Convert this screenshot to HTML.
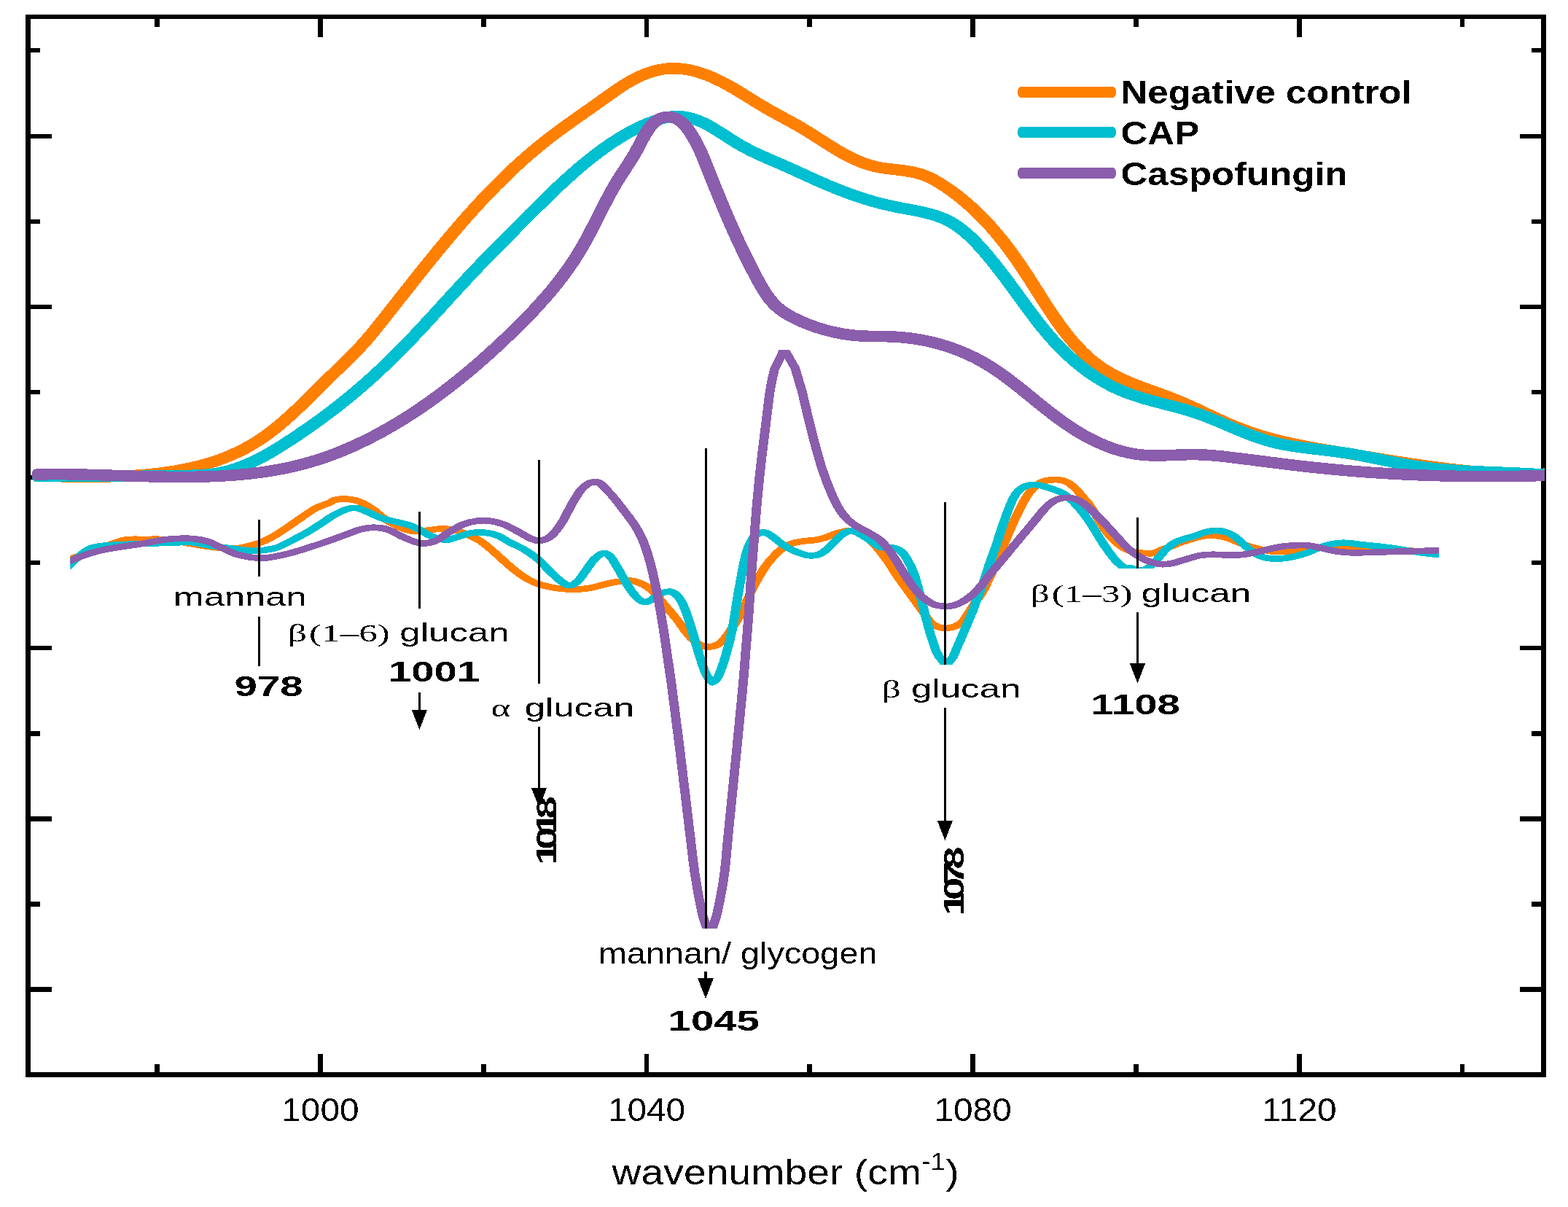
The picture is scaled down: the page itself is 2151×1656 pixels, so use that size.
<!DOCTYPE html>
<html lang="en"><head><meta charset="utf-8"><title>FTIR spectra 960-1150 wavenumber</title>
<style>html,body{margin:0;padding:0;background:#fff}svg{display:block}text{font-family:"Liberation Sans",sans-serif;fill:#000}.b{font-weight:bold}.sy{font-family:"Liberation Serif",serif}</style></head><body>
<svg xmlns="http://www.w3.org/2000/svg" width="2151" height="1656" viewBox="0 0 2151 1656" shape-rendering="crispEdges">
<rect width="2151" height="1656" fill="#fff"/>
<g fill="#000">
<rect x="35.0" y="20.0" width="7.0" height="1458.0"/>
<rect x="2114.3" y="20.0" width="6.7" height="1458.0"/>
<rect x="35.0" y="20.0" width="2086.0" height="6.0"/>
<rect x="35.0" y="1471.0" width="2086.0" height="7.0"/>
<rect x="212.2" y="26.0" width="6.8" height="11"/>
<rect x="212.2" y="1460" width="6.8" height="11"/>
<rect x="436" y="26.0" width="6.8" height="25"/>
<rect x="436" y="1446" width="6.8" height="25"/>
<rect x="659.8" y="26.0" width="6.8" height="11"/>
<rect x="659.8" y="1460" width="6.8" height="11"/>
<rect x="883.6" y="26.0" width="6.8" height="25"/>
<rect x="883.6" y="1446" width="6.8" height="25"/>
<rect x="1107.4" y="26.0" width="6.8" height="11"/>
<rect x="1107.4" y="1460" width="6.8" height="11"/>
<rect x="1331.2" y="26.0" width="6.8" height="25"/>
<rect x="1331.2" y="1446" width="6.8" height="25"/>
<rect x="1555" y="26.0" width="6.8" height="11"/>
<rect x="1555" y="1460" width="6.8" height="11"/>
<rect x="1778.8" y="26.0" width="6.8" height="25"/>
<rect x="1778.8" y="1446" width="6.8" height="25"/>
<rect x="2002.6" y="26.0" width="6.8" height="11"/>
<rect x="2002.6" y="1460" width="6.8" height="11"/>
<rect x="42.0" y="65.8" width="13" height="6.4"/>
<rect x="2101.1" y="65.8" width="13.2" height="6.4"/>
<rect x="42.0" y="183.8" width="29" height="6.4"/>
<rect x="2084.8" y="183.8" width="29.5" height="6.4"/>
<rect x="42.0" y="300.8" width="13" height="6.4"/>
<rect x="2101.1" y="300.8" width="13.2" height="6.4"/>
<rect x="42.0" y="417.8" width="29" height="6.4"/>
<rect x="2084.8" y="417.8" width="29.5" height="6.4"/>
<rect x="42.0" y="534.9" width="13" height="6.4"/>
<rect x="2101.1" y="534.9" width="13.2" height="6.4"/>
<rect x="42.0" y="651.9" width="29" height="6.4"/>
<rect x="2084.8" y="651.9" width="29.5" height="6.4"/>
<rect x="42.0" y="769" width="13" height="6.4"/>
<rect x="2101.1" y="769" width="13.2" height="6.4"/>
<rect x="42.0" y="886" width="29" height="6.4"/>
<rect x="2084.8" y="886" width="29.5" height="6.4"/>
<rect x="42.0" y="1003.1" width="13" height="6.4"/>
<rect x="2101.1" y="1003.1" width="13.2" height="6.4"/>
<rect x="42.0" y="1120.2" width="29" height="6.4"/>
<rect x="2084.8" y="1120.2" width="29.5" height="6.4"/>
<rect x="42.0" y="1237.2" width="13" height="6.4"/>
<rect x="2101.1" y="1237.2" width="13.2" height="6.4"/>
<rect x="42.0" y="1354.2" width="29" height="6.4"/>
<rect x="2084.8" y="1354.2" width="29.5" height="6.4"/>
</g>
<defs>
<clipPath id="cu"><rect x="0" y="0" width="1811.1" height="1656"/></clipPath>
<clipPath id="cl"><rect x="64.6" y="476" width="1260.3" height="900"/></clipPath>
<filter id="bin" x="-5%" y="-20%" width="110%" height="140%" color-interpolation-filters="sRGB"><feComponentTransfer><feFuncA type="discrete" tableValues="0 1"/></feComponentTransfer></filter>
</defs>
<g transform="scale(1.49 1)" fill="none" stroke-width="8.6" stroke-linejoin="miter" stroke-miterlimit="6" clip-path="url(#cl)">
<path d="M60.4 772C61.8 770.4 60.1 770.1 64.6 767.3C69 764.5 80.7 758.5 87.2 755C93.8 751.5 98.8 748.5 103.6 746C108.4 743.5 111 741.3 116.1 740.3C121.2 739.3 128 740 134.2 740C140.5 740 144.1 738.9 153.6 740.5C163 742.1 180.6 747.8 191 749.8C201.4 751.8 209.7 752.5 215.9 752.4C222.1 752.3 224.2 750.8 228.4 749.3C232.6 747.8 236.8 746.2 240.9 743.7C245.1 741.2 249.2 738 253.4 734.4C257.5 730.8 261.7 726.5 265.8 722.3C270 718.1 274.2 713.5 278.3 709.3C282.5 705.1 286.6 700.5 290.8 697.2C295 694 300.5 691.7 303.3 689.8C306.1 687.9 305.4 686.9 307.8 686C310.2 685.1 314 684.2 317.8 684.5C321.5 684.8 326.1 685.6 330.3 687.9C334.4 690.2 338.6 693.9 342.8 698.1C346.9 702.3 351.1 708.8 355.2 713C359.4 717.2 363.6 720.6 367.7 723.2C371.9 725.8 376 728 380.2 728.8C384.4 729.6 388.5 728.4 392.7 727.9C396.8 727.4 401 725.8 405.2 725.6C409.3 725.4 413.4 725.6 417.6 726.9C421.7 728.2 425.9 730.8 430.1 733.4C434.2 736 438.4 738.7 442.6 742.7C446.7 746.7 450.9 752.3 455 757.6C459.2 762.9 463.4 769.1 467.5 774.4C471.7 779.7 475.8 785 480 789.2C484.2 793.4 488.3 796.9 492.5 799.5C496.6 802.1 500.8 803.6 505 805C509.1 806.4 513.3 807.2 517.4 807.8C521.6 808.4 525.8 808.9 529.9 808.8C534.1 808.6 539.2 807.6 542.4 806.9C545.7 806.2 546.2 805.8 549.4 804.6C552.6 803.4 557.7 801.1 561.9 799.9C566 798.6 570.8 797.6 574.4 797.1C577.9 796.6 580 796.2 583.1 797.1C586.2 798 590.4 800.7 593.1 802.7C595.8 804.7 597.2 806.6 599.3 809.2C601.4 811.8 603.5 815.1 605.6 818.5C607.7 821.9 609.7 826 611.8 829.7C613.9 833.4 616 837.1 618.1 840.8C620.1 844.5 622.2 848 624.3 852C626.4 856 628.5 861 630.5 865C632.6 869 634.7 873.1 636.8 876.2C638.9 879.3 640.9 881.8 643 883.6C645.1 885.4 647.2 886.4 649.3 887C651.3 887.6 653.4 887.6 655.5 887C657.6 886.4 659.7 885.7 661.7 883.6C663.8 881.5 665.9 878 668 874.3C670.1 870.6 672.1 865.9 674.2 861.3C676.3 856.6 678.4 852 680.5 846.4C682.6 840.8 684.6 834.3 686.7 827.8C688.8 821.3 690.9 813.6 693 807.4C695 801.2 697.1 795.9 699.1 790.6C701.2 785.3 703.3 780.1 705.4 775.8C707.4 771.5 709.5 768 711.6 764.6C713.7 761.2 715.8 757.9 717.9 755.3C719.9 752.7 722 750.5 724.1 748.8C726.2 747.1 728.3 746 730.3 745.1C732.4 744.2 734.5 743.7 736.6 743.2C738.7 742.7 740.7 742.2 742.8 741.9C744.9 741.6 747 741.7 749.1 741.3C751.1 740.9 753.2 740.3 755.3 739.5C757.4 738.7 759.5 737.8 761.5 736.7C763.6 735.6 765.7 734.1 767.8 733C769.9 731.9 771.9 731 774 730.2C776.1 729.4 778.2 728.4 780.3 728.3C782.3 728.1 784.5 729.1 786.5 729.3C788.5 729.5 789.1 725.9 792.4 729.3C795.8 732.7 803.1 744.4 806.5 749.7C809.8 755 810.7 756.9 812.7 760.9C814.8 764.9 816.9 769.2 819 773.9C821.1 778.5 823.2 784.1 825.3 788.8C827.4 793.4 829.5 797.5 831.6 801.8C833.7 806.1 835.8 810.5 837.9 814.8C840 819.1 842.1 823.5 844.2 827.8C846.3 832.1 848.5 836.8 850.5 840.8C852.4 844.8 854 849 855.8 852C857.5 855 859.1 857 860.9 858.5C862.8 860 864.8 860.8 866.8 861.3C868.9 861.8 871 862 873.1 861.7C875.2 861.4 877.2 860.7 879.3 859.4C881.4 858.1 883.5 857 885.6 853.9C887.7 850.8 889.7 845.4 891.8 840.8C893.9 836.1 896 830.6 898.1 826C900.1 821.4 902.2 818.2 904.3 812.9C906.4 807.6 908.5 800.8 910.5 794.3C912.6 787.8 914.7 781 916.8 773.9C918.9 766.8 920.9 759 923 751.6C925.1 744.2 927.2 736.4 929.3 729.3C931.3 722.2 933.4 715.3 935.5 708.8C937.6 702.3 939.7 695.8 941.7 690.2C943.8 684.6 945.9 679.3 948 675.3C950.1 671.3 952.1 668.5 954.2 666C956.2 663.5 958.3 661.7 960.4 660.5C962.5 659.3 964.6 659 966.6 658.6C968.7 658.2 970.8 658.1 972.9 658.2C975 658.4 977 658.5 979.1 659.5C981.2 660.5 983.3 662 985.4 664.2C987.4 666.4 989.5 669.2 991.6 672.5C993.7 675.8 995.8 680 997.9 683.7C999.9 687.4 1001 688 1004.1 694.9C1007.2 701.8 1013.5 718 1016.6 725C1019.7 732 1020.7 733.2 1022.8 736.7C1024.9 740.2 1027 743.4 1029.1 746C1031.1 748.6 1033.2 750.8 1035.3 752.5C1037.4 754.2 1039.5 755.3 1041.5 756.2C1043.6 757.1 1045.6 757.6 1047.8 758.1C1049.9 758.6 1052.2 758.9 1054.5 759C1056.8 759.1 1059.2 759.8 1061.7 759C1064.2 758.2 1066.8 755.8 1069.7 754.1C1072.6 752.5 1076.1 750.8 1079 749.1C1081.9 747.4 1084.6 745.6 1087.4 744.1C1090.2 742.6 1093 741.6 1095.8 740.3C1098.7 739 1101.5 737.5 1104.3 736.5C1107.1 735.5 1109.9 734.7 1112.7 734.5C1115.5 734.3 1118.3 734.8 1121.1 735.3C1123.9 735.8 1126.7 736.5 1129.5 737.8C1132.3 739 1135.2 741.1 1138 742.8C1140.8 744.5 1143.6 746.3 1146.4 747.8C1149.2 749.3 1152 750.5 1154.8 751.6C1157.6 752.7 1160.4 753.8 1163.2 754.6C1166 755.4 1168.9 756.2 1171.7 756.6C1174.5 757 1177.3 757.1 1180.1 757.1C1182.9 757.1 1185.7 756.9 1188.5 756.6C1191.3 756.3 1194.1 755.8 1196.9 755.3C1199.7 754.8 1202.6 754.1 1205.4 753.6C1208.2 753.1 1211 752.5 1213.8 752.1C1216.6 751.7 1219.4 751.3 1222.2 751.1C1225 750.9 1227.9 751 1230.7 751.1C1233.5 751.2 1234.9 751.2 1239.1 751.6C1243.3 752 1250.3 753.1 1255.9 753.6C1261.5 754.1 1267.3 754.4 1272.8 754.6C1278.2 754.8 1283.5 754.8 1288.8 755C1294.1 755.2 1298.5 755.7 1304.5 756C1310.5 756.3 1320.8 756.8 1324.8 757C1328.9 757.2 1327.5 757 1328.9 757" stroke="#ff8000"/>
<path d="M60.4 780C61.8 778.3 62.3 777.9 64.6 774.9C66.8 771.9 70.4 765.9 73.8 762C77.2 758.1 79.9 753.9 84.9 751.5C89.9 749.1 94.3 748.8 103.6 747.8C113 746.8 130.5 746.1 140.9 745.5C151.3 744.9 159.8 744.4 166 744.2C172.3 744 174.4 743.8 178.5 744.4C182.7 745 184.8 746.6 191 748C197.2 749.4 208.6 751.7 215.9 753C223.2 754.3 228.4 756 234.6 755.8C240.9 755.6 248.2 754 253.4 752C258.6 750 260.6 747.6 265.8 743.7C271 739.8 279.7 733 284.6 728.8C289.5 724.6 291.4 722.3 295.3 718.6C299.2 714.9 303.6 709.9 307.8 706.5C311.9 703.1 316.7 699.6 320.3 698.1C323.8 696.6 325.9 696.4 329 697.2C332.1 698 335.2 700.5 339 702.8C342.7 705.1 347.3 708.9 351.5 711.1C355.6 713.3 359.8 714.2 364 715.8C368.1 717.3 372.9 718.7 376.4 720.4C380 722.1 382 723.7 385.2 726C388.3 728.3 392 732.2 395.2 734.4C398.3 736.6 401.2 737.9 403.9 739C406.6 740.1 408.6 741.2 411.3 740.9C414 740.6 416.6 738.8 420.1 737.2C423.7 735.7 428.5 732.7 432.6 731.6C436.8 730.5 441 730.1 445.1 730.6C449.3 731.1 453.4 732.1 457.5 734.4C461.7 736.7 465.8 741.4 470 744.6C474.2 747.9 478.3 750.2 482.5 753.9C486.6 757.6 490.8 761.6 495 766.9C499.1 772.2 503.7 780.2 507.4 785.5C511.2 790.8 514.5 795.5 517.4 798.5C520.4 801.5 522.5 803.5 525 803.2C527.5 802.9 529.9 800.3 532.4 796.7C534.9 793.1 537.4 786.8 539.9 781.8C542.4 776.8 544.8 770.7 547.4 766.9C550 763.1 553.2 759.5 555.6 759C558.1 758.5 559.8 760.6 561.9 763.7C564 766.8 566 772.5 568.1 777.6C570.2 782.7 572.3 789 574.4 794.3C576.4 799.6 578.5 804.9 580.6 809.2C582.7 813.6 584.8 817.6 586.8 820.4C588.9 823.2 591 825.5 593.1 826C595.2 826.5 597.2 824.8 599.3 823.2C601.4 821.7 603.5 818.5 605.6 816.7C607.7 814.9 609.7 813.4 611.8 812.6C613.9 811.8 616 811 618.1 812C620.1 813 622.2 814.6 624.3 818.5C626.4 822.4 628.5 827.8 630.5 835.3C632.6 842.8 634.7 853.3 636.8 863.2C638.9 873.1 640.9 884.9 643 894.8C645.1 904.7 647.4 916.2 649.3 922.7C651.1 929.2 653 931.6 654.2 933.8C655.5 936 655.5 936.9 656.7 935.7C658 934.5 659.9 932.3 661.7 926.4C663.6 920.5 665.9 910.8 668 900.3C670.1 889.8 672.1 878.7 674.2 863.2C676.3 847.7 678.4 824.5 680.5 807.4C682.6 790.3 684.6 772.4 686.7 760.9C688.8 749.4 690.9 743.5 693 738.6C695 733.7 697.1 732.8 699.1 731.5C701.2 730.2 703.3 730.2 705.4 731.1C707.4 732 709.5 734.5 711.6 736.7C713.7 738.9 715.8 741.8 717.9 744.1C719.9 746.4 722 748.7 724.1 750.6C726.2 752.5 728.3 753.9 730.3 755.3C732.4 756.7 734.5 757.9 736.6 759C738.7 760.1 740.7 761.3 742.8 761.8C744.9 762.3 747 762.5 749.1 762.2C751.1 761.9 753.2 761.4 755.3 759.9C757.4 758.4 759.5 756 761.5 753.4C763.6 750.8 765.7 747.2 767.8 744.1C769.9 741 771.9 737.3 774 734.8C776.1 732.3 778.2 730.3 780.3 729.3C782.3 728.3 784.4 728.1 786.5 728.9C788.6 729.7 790.8 732.3 792.8 733.9C794.7 735.5 796.2 736.6 798.2 738.5C800.1 740.4 802.3 743.1 804.4 745.1C806.5 747.1 808.6 749.5 810.7 750.6C812.8 751.7 814.8 751.4 816.9 751.6C819 751.8 821.1 751.1 823.2 751.9C825.2 752.7 827.3 753.5 829.4 756.2C831.5 758.9 833.6 762.9 835.6 768.3C837.7 773.7 839.8 779.8 841.9 788.8C844 797.8 846 810.3 848.1 822.2C850.3 834.1 853.1 851.2 854.7 860C856.3 868.8 856.5 869.3 857.7 875C858.9 880.7 860.6 887.9 862.1 894.3L864.8 901.2L868.1 907.4L874.2 907.4L877.5 901.2L879.5 894.3C881.6 887.1 884 878.7 885.8 872.6C887.5 866.5 888.5 863 890.1 857.6C891.6 852.2 893.7 845.1 895.1 840C896.5 834.9 896.8 833 898.3 827C899.9 821 902.3 812.2 904.3 803.7C906.3 795.2 908.5 784.8 910.5 775.8C912.6 766.8 914.7 758.7 916.8 749.7C918.9 740.7 920.9 730.8 923 721.8C925.1 712.8 927.2 703.2 929.3 695.8C931.3 688.4 933.4 681.7 935.5 677.2C937.6 672.7 939.7 670.8 941.7 668.8C943.8 666.8 945.9 666.1 948 665.5C950.1 664.9 952.1 664.9 954.2 665.1C956.2 665.4 958.3 666.2 960.4 667C962.5 667.8 964.6 668.8 966.6 669.8C968.7 670.8 970.8 671.9 972.9 673.1C975 674.3 977 675.3 979.1 677.2C981.2 679.1 983.3 681.8 985.4 684.6C987.4 687.4 989.5 690.5 991.6 693.9C993.7 697.3 995.8 701.1 997.9 705.1C999.9 709.1 1002 713.5 1004.1 718.1C1006.2 722.8 1008.3 728 1010.3 733C1012.4 738 1014.5 743.2 1016.6 747.9C1018.7 752.5 1020.7 756.9 1022.8 760.9C1024.9 764.9 1027 769.1 1029.1 772C1031.1 774.9 1033.2 777.2 1035.3 778.5C1037.4 779.8 1039.5 778.9 1041.5 779.5C1043.5 780.1 1044.9 781.8 1047.3 782C1049.7 782.2 1052.9 782.6 1055.8 780.5C1058.6 778.4 1061.4 773.6 1064.3 769.2C1067.2 764.8 1070.2 758.3 1073.1 754.1C1076.1 749.9 1079 746.6 1082 744.1C1085 741.6 1088.2 740.5 1091.2 739C1094.3 737.5 1097.3 736.8 1100.3 735.3C1103.4 733.8 1106.4 731.4 1109.3 730.2C1112.2 729 1114.9 728.4 1117.7 728.2C1120.5 728 1123.4 728 1126.2 729C1129 730 1131.8 731.5 1134.6 734C1137.4 736.5 1140.2 740.6 1143 744.1C1145.8 747.6 1148.7 752.2 1151.5 755.3C1154.3 758.4 1157.1 761.1 1159.9 762.9C1162.7 764.7 1165.5 765.5 1168.3 766.1C1171.1 766.7 1173.9 766.7 1176.7 766.6C1179.5 766.5 1182.4 766 1185.2 765.4C1188 764.8 1190.7 763.9 1193.6 762.9C1196.4 761.9 1199.2 760.6 1202 759.1C1204.8 757.6 1207.6 755.8 1210.4 754.1C1213.2 752.4 1216.1 750.4 1218.9 749.1C1221.7 747.8 1224.4 746.8 1227.2 746.1C1230.1 745.4 1232.9 744.9 1235.7 744.8C1238.5 744.7 1241.3 744.9 1244.1 745.3C1246.9 745.7 1249.7 746.6 1252.6 747.1C1255.4 747.6 1258.1 747.9 1260.9 748.3C1263.7 748.7 1266.6 749.1 1269.4 749.6C1272.2 750.1 1275.1 750.6 1277.8 751.1C1280.5 751.6 1283.1 752.2 1285.7 752.8C1288.3 753.4 1290.9 754 1293.6 754.6C1296.2 755.2 1298.2 755.9 1301.4 756.6C1304.5 757.4 1308.4 758.4 1312.4 759.1C1316.3 759.9 1322.1 760.7 1324.8 761.1C1327.6 761.5 1327.5 761.4 1328.9 761.5" stroke="#00bfd0"/>
<path d="M60.4 772C61.8 771.1 61.5 771.1 64.6 769.3C67.6 767.5 74.2 763.5 78.7 761.3C83.1 759 87 757.3 91.1 755.8C95.3 754.3 99.5 753.2 103.6 752.1C107.8 751 111.9 750.2 116.1 749.3C120.3 748.4 124.4 747.5 128.6 746.5C132.8 745.5 136.9 744.2 141.1 743.1C145.2 742 149.4 740.7 153.6 740C157.7 739.3 161.9 738.9 166 738.8C170.2 738.7 174.4 738.5 178.5 739.2C182.7 739.9 186.8 740.8 191 742.8C195.2 744.8 199.3 748.3 203.5 751.1C207.6 753.9 211.8 757.3 215.9 759.5C220.1 761.7 224.6 763.1 228.4 764.1C232.1 765.1 235.3 765.4 238.4 765.6C241.5 765.8 242.5 766.1 247.1 765.1C251.7 764.1 259.6 761.8 265.8 759.5C272.1 757.2 278.3 754.1 284.6 751.1C290.8 748.1 297.3 744.9 303.3 741.8C309.2 738.7 315.4 735.1 320.3 732.5C325.2 729.9 328.6 727.5 332.8 726C336.9 724.5 341.1 723.6 345.2 723.8C349.4 723.9 353.6 724.8 357.7 726.9C361.9 729 366 733.4 370.2 736.2C374.4 739 379.1 742.2 382.7 743.7C386.2 745.2 388.3 745.8 391.4 745.5C394.5 745.2 397.7 744.4 401.4 741.8C405.2 739.2 409.7 733.4 413.9 729.7C418.1 726 422.2 722 426.4 719.5C430.5 717 434.7 715.6 438.9 714.8C443 714 447.2 714 451.3 714.8C455.5 715.6 459.6 717.2 463.8 719.5C467.9 721.8 472.1 725.5 476.2 728.8C480.4 732 485.2 736.8 488.7 739C492.3 741.2 494.4 742.4 497.5 741.8C500.6 741.2 504.1 739.5 507.4 735.3C510.8 731.1 514.3 723.8 517.4 716.7C520.6 709.6 523.3 699.9 526.2 692.5C529.1 685.1 532.2 677 534.9 672.1C537.6 667.2 540.3 664.8 542.3 663C544.3 661.2 545.2 661.4 546.9 661.4C548.6 661.4 549.9 660.4 552.4 663C554.9 665.6 559.3 673 561.9 677.2C564.5 681.4 566 684.4 568.1 688.3C570.2 692.2 572.3 696.4 574.4 700.4C576.4 704.4 578.5 708.1 580.6 712.5C582.7 716.9 584.8 720.9 586.8 726.5C588.9 732.1 591 737.8 593.1 746C595.2 754.2 597.2 763.7 599.3 775.8C601.4 787.9 603.5 802.4 605.6 818.5C607.7 834.6 609.7 852.7 611.8 872.5C613.9 892.3 615.8 912.8 618.1 937.5C620.3 962.2 622.5 986.8 625.3 1020.8C628.1 1054.8 632.6 1111.6 635 1141.5C637.5 1171.4 638 1181.9 639.9 1200C641.7 1218.1 644.3 1238.4 646 1250C647.7 1261.6 648.6 1263.1 649.9 1269.6L656.8 1269.6C658.1 1263.1 659.1 1261.6 660.7 1250C662.4 1238.4 665.2 1218.1 666.8 1200C668.5 1181.9 668.7 1171.4 670.7 1141.5C672.7 1111.6 676.6 1054.8 678.8 1020.8C681 986.8 682.8 959.1 684.2 937.5C685.5 915.9 685.9 906.5 686.7 891C687.6 875.5 688.4 861.6 689.2 844.6C690 827.6 690.9 805.8 691.7 788.8C692.5 771.8 693.3 757.8 694.2 742.3C695 726.8 695.7 711 696.6 695.8C697.5 680.6 698.6 664.5 699.5 651C700.5 637.5 701.3 628 702.3 615C703.4 602 704.7 586.2 705.8 572.9C707 559.6 707.9 545.9 709.1 535C710.2 524.1 711.6 516.7 712.9 507.6L720.4 484.2L724 484.2L732.1 505.2C734.1 515.7 736.4 526.3 738.3 536.6C740.1 546.9 741.5 556.9 743.2 567C744.8 577.1 746.6 588.2 748.1 597C749.7 605.8 751 612.8 752.3 620C753.7 627.2 754.7 633 756.2 640C757.8 647 759.6 654.9 761.5 662.3C763.5 669.7 765.7 678.1 767.8 684.6C769.9 691.1 771.9 696.8 774 701.4C776.1 706 778.2 709.4 780.3 712.5C782.3 715.6 784.4 717.8 786.5 720C788.6 722.2 790.8 723.9 792.8 725.5C794.7 727.1 796.2 727.9 798.2 729.5C800.1 731.1 802.3 733 804.4 735C806.5 737 808.6 738.5 810.7 741.3C812.8 744.1 814.8 747.7 816.9 751.6C819 755.5 821.1 760 823.2 764.6C825.2 769.2 827.3 774.5 829.4 779.5C831.5 784.5 833.6 789.6 835.6 794.3C837.7 798.9 839.8 803.5 841.9 807.4C844 811.3 846 814.7 848.1 817.6C850.2 820.5 852.3 823 854.4 825C856.4 827 858.5 828.6 860.6 829.7C862.7 830.8 864.8 831.1 866.8 831.5C868.9 831.9 871 832.1 873.1 831.9C875.2 831.6 877.2 831 879.3 830C881.4 829 883.5 827.7 885.6 826C887.7 824.3 889.7 822.3 891.8 820C893.9 817.7 896 815 898.1 812C900.1 809 902.2 805.5 904.3 801.8C906.4 798.1 908.5 793.6 910.5 789.7C912.6 785.8 914.7 782.2 916.8 778.5C918.9 774.8 920.9 771.1 923 767.4C925.1 763.7 927.2 759.9 929.3 756.2C931.3 752.5 933.4 748.8 935.5 745.1C937.6 741.4 939.7 737.6 941.7 733.9C943.8 730.2 945.9 726.5 948 722.8C950.1 719.1 952.1 715.3 954.2 711.6C956.2 707.9 958.3 703.8 960.4 700.4C962.5 697 964.6 693.6 966.6 691.1C968.7 688.6 970.8 686.9 972.9 685.6C975 684.3 977 683.5 979.1 683.1C981.2 682.7 983.3 682.7 985.4 683.1C987.4 683.5 989.5 684.3 991.6 685.6C993.7 686.9 995.8 688.9 997.9 691.1C999.9 693.3 1002 695.8 1004.1 698.6C1006.2 701.4 1008.3 704.8 1010.3 707.9C1012.4 711 1014.5 714 1016.6 717.2C1018.7 720.5 1020.7 724 1022.8 727.4C1024.9 730.8 1027 734.2 1029.1 737.6C1031.1 741 1033.2 744.8 1035.3 747.9C1037.4 751 1039.5 753.7 1041.5 756.2C1043.6 758.7 1045.6 760.7 1047.8 762.7C1050 764.7 1052.2 766.8 1054.6 768.3C1056.9 769.8 1059.3 771 1061.8 772C1064.4 773 1067.1 774.1 1070 774.2C1072.9 774.4 1076.4 773.7 1079.3 772.9C1082.3 772.1 1084.9 770.5 1087.7 769.2C1090.5 768 1093.4 766.6 1096.2 765.4C1099 764.2 1101.8 762.9 1104.6 762.1C1107.4 761.4 1110.2 761.1 1113 760.9C1115.8 760.7 1118.7 760.8 1121.5 760.9C1124.3 761 1127.1 761.5 1129.9 761.6C1132.7 761.7 1135.5 761.8 1138.3 761.6C1141.1 761.4 1143.9 761 1146.7 760.4C1149.5 759.8 1152.4 758.8 1155.2 757.9C1158 757 1160.7 756.3 1163.6 755.3C1166.4 754.3 1169.2 753 1172 752.1C1174.8 751.2 1177.6 750.4 1180.4 749.8C1183.2 749.2 1186.1 748.9 1188.9 748.6C1191.7 748.3 1194.4 748.1 1197.2 748.1C1200.1 748.1 1202.9 748.1 1205.7 748.6C1208.5 749.1 1211.3 750.2 1214.1 751.1C1216.9 752 1219.7 753.2 1222.6 754.1C1225.4 755 1228.2 756 1231 756.6C1233.8 757.2 1236.6 757.6 1239.4 757.9C1242.2 758.2 1245 758.4 1247.9 758.4C1250.7 758.4 1252 758.3 1256.2 758.1C1260.4 757.9 1267.6 757.6 1273.1 757.4C1278.6 757.1 1283.8 756.8 1289.1 756.6C1294.3 756.4 1298.6 756.4 1304.6 756.1C1310.6 755.9 1320.8 755.3 1324.8 755.1C1328.9 754.9 1327.5 755 1328.9 755" stroke="#8b5dad"/>
</g>
<g transform="scale(1.17 1)" fill="none" stroke-width="15.5" stroke-linejoin="round" clip-path="url(#cu)">
<path d="M41.7 653.2C44.5 653.3 47.2 653.3 50 653.4C52.8 653.4 55.6 653.5 58.4 653.5C61.2 653.6 64 653.6 66.8 653.7C69.6 653.7 72.5 653.8 75.3 653.8C78.2 653.9 81 653.9 83.9 654C86.7 654 89.6 654 92.5 654C95.3 654.1 98.2 654.1 101.1 654.1C104 654.1 106.9 654.1 109.8 654.1C112.7 654.1 115.6 654 118.5 654C121.4 654 124.3 653.9 127.2 653.8C130.1 653.8 133 653.7 135.9 653.6C138.8 653.5 141.7 653.3 144.6 653.2C147.5 653 150.4 652.9 153.3 652.7C156.2 652.5 159.1 652.3 162 652C164.9 651.8 167.8 651.5 170.7 651.2C173.6 650.9 176.5 650.6 179.3 650.2C182.2 649.9 185.1 649.5 187.9 649.1C190.8 648.7 193.7 648.2 196.5 647.7C199.3 647.3 202.2 646.8 205 646.2C207.8 645.6 210.6 645.1 213.5 644.4C216.3 643.8 219 643.1 221.8 642.4C224.6 641.7 227.4 641 230.1 640.2C232.9 639.4 235.6 638.6 238.3 637.7C241.1 636.8 243.8 635.9 246.4 634.9C249.1 633.9 251.8 632.9 254.5 631.8C257.1 630.8 259.8 629.6 262.4 628.5C265 627.3 267.6 626.1 270.2 624.8C272.7 623.5 275.3 622.2 277.8 620.8C280.4 619.4 282.9 618 285.4 616.4C287.9 614.9 290.3 613.4 292.8 611.8C295.2 610.1 297.6 608.4 300 606.7C302.4 604.9 304.8 603.1 307.1 601.3C309.4 599.4 311.8 597.5 314.1 595.5C316.4 593.5 318.6 591.5 320.9 589.4C323.1 587.4 325.4 585.2 327.6 583.1C329.8 580.9 332 578.7 334.2 576.5C336.4 574.3 338.5 572 340.7 569.7C342.8 567.5 345 565.1 347.1 562.8C349.2 560.5 351.3 558.1 353.4 555.8C355.5 553.4 357.6 551 359.7 548.6C361.8 546.3 363.9 543.9 365.9 541.5C368 539.1 370.1 536.7 372.1 534.3C374.2 531.9 376.2 529.5 378.3 527.1C380.3 524.7 382.4 522.3 384.4 520C386.5 517.6 388.5 515.3 390.6 513C392.6 510.6 394.7 508.3 396.7 506C398.8 503.7 400.8 501.4 402.8 499.1C404.8 496.8 406.9 494.5 408.9 492.2C410.9 489.9 412.9 487.5 414.8 485.2C416.8 482.8 418.7 480.5 420.7 478.1C422.6 475.7 424.5 473.3 426.4 470.8C428.3 468.4 430.1 465.9 432 463.4C433.8 460.9 435.6 458.3 437.4 455.8C439.2 453.2 441 450.6 442.8 448C444.6 445.4 446.3 442.8 448.1 440.2C449.9 437.6 451.6 435 453.4 432.4C455.2 429.7 456.9 427.1 458.7 424.5C460.5 421.9 462.2 419.3 464 416.6C465.8 414 467.5 411.4 469.3 408.7C471.1 406.1 472.9 403.5 474.6 400.9C476.4 398.2 478.2 395.6 480 393C481.7 390.4 483.5 387.7 485.3 385.1C487.1 382.5 488.8 379.9 490.6 377.2C492.4 374.6 494.2 372 496 369.4C497.8 366.8 499.6 364.1 501.4 361.5C503.2 358.9 505 356.3 506.8 353.7C508.6 351.1 510.4 348.5 512.2 345.9C514 343.3 515.9 340.7 517.7 338.2C519.5 335.6 521.4 333 523.2 330.4C525 327.9 526.9 325.3 528.7 322.7C530.6 320.2 532.4 317.6 534.3 315.1C536.2 312.6 538 310 539.9 307.5C541.8 305 543.7 302.5 545.6 299.9C547.4 297.4 549.3 294.9 551.2 292.4C553.2 290 555.1 287.5 557 285C558.9 282.5 560.8 280.1 562.8 277.6C564.7 275.2 566.7 272.8 568.6 270.3C570.6 267.9 572.6 265.5 574.5 263.1C576.5 260.7 578.5 258.3 580.5 255.9C582.5 253.6 584.5 251.2 586.5 248.9C588.6 246.5 590.6 244.2 592.6 241.9C594.7 239.5 596.7 237.2 598.8 234.9C600.9 232.7 602.9 230.4 605 228.1C607.1 225.9 609.2 223.6 611.3 221.4C613.5 219.2 615.6 217 617.7 214.8C619.9 212.6 622 210.4 624.2 208.3C626.4 206.1 628.5 204 630.7 201.9C632.9 199.8 635.1 197.7 637.4 195.6C639.6 193.5 641.8 191.4 644.1 189.4C646.3 187.4 648.6 185.3 650.9 183.3C653.2 181.3 655.5 179.3 657.8 177.4C660.1 175.4 662.4 173.4 664.7 171.5C667 169.5 669.4 167.6 671.7 165.6C674 163.7 676.4 161.8 678.7 159.8C681.1 157.9 683.4 156 685.7 154.1C688.1 152.1 690.4 150.2 692.8 148.3C695.1 146.3 697.5 144.4 699.8 142.5C702.2 140.5 704.5 138.6 706.8 136.6C709.2 134.7 711.5 132.7 713.9 130.8C716.2 128.8 718.5 126.9 720.9 125C723.2 123.1 725.6 121.2 728 119.3C730.4 117.5 732.8 115.7 735.2 114C737.7 112.3 740.1 110.6 742.7 109.1C745.2 107.5 747.7 106 750.3 104.7C752.9 103.3 755.5 102 758.2 100.8C760.9 99.7 763.6 98.6 766.3 97.7C769 96.8 771.8 96.1 774.5 95.5C777.3 94.9 780.1 94.4 782.9 94.1C785.7 93.8 788.5 93.7 791.4 93.8C794.2 93.8 797 94.1 799.8 94.5C802.7 94.8 805.5 95.4 808.3 96C811.1 96.7 813.9 97.5 816.7 98.4C819.4 99.3 822.2 100.4 824.9 101.5C827.7 102.6 830.4 103.8 833 105.1C835.7 106.4 838.3 107.8 840.9 109.2C843.5 110.7 846 112.2 848.6 113.7C851.1 115.3 853.6 116.9 856.1 118.6C858.6 120.2 861.1 121.9 863.5 123.6C866 125.3 868.4 127.1 870.9 128.8C873.3 130.6 875.7 132.3 878.2 134.1C880.6 135.9 883 137.6 885.4 139.4C887.8 141.1 890.3 142.9 892.7 144.6C895.2 146.3 897.6 148 900.1 149.6C902.5 151.3 905 152.9 907.5 154.5C910 156.1 912.4 157.7 914.9 159.3C917.4 160.8 919.9 162.4 922.4 164C924.9 165.6 927.4 167.2 929.9 168.8C932.4 170.4 934.9 172 937.3 173.7C939.8 175.4 942.3 177.1 944.7 178.9C947.2 180.6 949.6 182.4 952.1 184.2C954.5 186 956.9 187.9 959.4 189.7C961.8 191.5 964.2 193.3 966.6 195.1C969.1 197 971.5 198.8 974 200.5C976.4 202.3 978.9 204.1 981.3 205.8C983.8 207.5 986.3 209.2 988.7 210.8C991.2 212.4 993.7 214 996.3 215.5C998.8 216.9 1001.3 218.4 1003.9 219.7C1006.5 221 1009.1 222.3 1011.7 223.4C1014.3 224.5 1017 225.6 1019.6 226.5C1022.3 227.4 1025 228.2 1027.8 228.9C1030.5 229.6 1033.3 230.2 1036.1 230.7C1038.9 231.2 1041.7 231.6 1044.6 232C1047.4 232.4 1050.3 232.7 1053.1 233.1C1055.9 233.5 1058.8 233.9 1061.6 234.4C1064.4 234.9 1067.2 235.4 1070 236.1C1072.8 236.8 1075.5 237.5 1078.3 238.5C1081 239.5 1083.7 240.6 1086.3 241.9C1088.9 243.1 1091.5 244.6 1094.1 246.1C1096.6 247.7 1099.1 249.4 1101.6 251.1C1104.1 252.9 1106.5 254.7 1108.9 256.6C1111.3 258.5 1113.7 260.5 1116 262.4C1118.4 264.4 1120.6 266.4 1122.9 268.5C1125.2 270.6 1127.4 272.6 1129.6 274.8C1131.8 276.9 1133.9 279.1 1136 281.3C1138.1 283.4 1140.2 285.7 1142.3 287.9C1144.4 290.2 1146.4 292.5 1148.4 294.8C1150.4 297.1 1152.4 299.5 1154.3 301.9C1156.2 304.2 1158.2 306.7 1160.1 309.1C1162 311.5 1163.8 314 1165.7 316.5C1167.5 319 1169.3 321.5 1171.1 324.1C1172.9 326.6 1174.7 329.2 1176.5 331.8C1178.2 334.4 1179.9 337.1 1181.7 339.7C1183.4 342.4 1185.1 345.1 1186.7 347.8C1188.4 350.5 1190.1 353.2 1191.7 355.9C1193.4 358.7 1195 361.4 1196.6 364.2C1198.2 367 1199.8 369.8 1201.4 372.7C1203 375.5 1204.6 378.3 1206.2 381.2C1207.7 384 1209.3 386.9 1210.9 389.8C1212.4 392.6 1214 395.5 1215.5 398.4C1217.1 401.3 1218.7 404.1 1220.2 407C1221.8 409.9 1223.4 412.7 1224.9 415.6C1226.5 418.5 1228.1 421.3 1229.7 424.1C1231.3 427 1232.9 429.8 1234.5 432.6C1236.1 435.4 1237.8 438.1 1239.4 440.9C1241.1 443.6 1242.7 446.3 1244.4 449C1246.1 451.7 1247.9 454.3 1249.6 457C1251.4 459.6 1253.1 462.2 1254.9 464.7C1256.8 467.2 1258.6 469.7 1260.5 472.2C1262.3 474.6 1264.2 477 1266.2 479.3C1268.1 481.7 1270.1 484 1272.1 486.2C1274.2 488.4 1276.2 490.6 1278.3 492.7C1280.5 494.8 1282.6 496.8 1284.8 498.8C1287 500.8 1289.3 502.7 1291.6 504.5C1293.9 506.3 1296.3 508.1 1298.7 509.7C1301.1 511.4 1303.6 513 1306.1 514.6C1308.6 516.1 1311.2 517.6 1313.8 519C1316.3 520.4 1319 521.8 1321.6 523.2C1324.3 524.5 1327 525.8 1329.7 527C1332.4 528.3 1335.1 529.5 1337.8 530.8C1340.6 532 1343.3 533.2 1346.1 534.3C1348.8 535.5 1351.6 536.7 1354.3 537.8C1357.1 539 1359.9 540.2 1362.6 541.4C1365.4 542.5 1368.1 543.7 1370.8 544.9C1373.5 546.1 1376.2 547.3 1378.9 548.6C1381.6 549.9 1384.2 551.1 1386.9 552.5C1389.5 553.8 1392.1 555.1 1394.7 556.5C1397.3 557.8 1399.8 559.2 1402.4 560.6C1405 562 1407.5 563.4 1410 564.8C1412.6 566.2 1415.1 567.6 1417.6 569C1420.2 570.4 1422.7 571.9 1425.3 573.2C1427.8 574.6 1430.4 576 1432.9 577.4C1435.5 578.7 1438.1 580.1 1440.6 581.4C1443.2 582.7 1445.9 583.9 1448.5 585.2C1451.1 586.4 1453.8 587.6 1456.4 588.8C1459.1 590 1461.8 591.1 1464.5 592.2C1467.2 593.3 1469.9 594.4 1472.7 595.5C1475.4 596.5 1478.1 597.5 1480.9 598.5C1483.6 599.4 1486.4 600.4 1489.1 601.2C1491.9 602.1 1494.7 603 1497.4 603.8C1500.2 604.6 1503 605.4 1505.8 606.2C1508.6 606.9 1511.3 607.7 1514.1 608.4C1516.9 609.1 1519.7 609.8 1522.5 610.4C1525.3 611.1 1528.1 611.7 1530.9 612.3C1533.7 612.9 1536.5 613.5 1539.3 614.1C1542.1 614.7 1544.9 615.3 1547.7 615.9C1550.5 616.4 1553.4 617 1556.2 617.5C1559 618.1 1561.8 618.6 1564.6 619.2C1567.4 619.7 1570.2 620.2 1573 620.8C1575.9 621.3 1578.7 621.9 1581.5 622.4C1584.3 623 1587.1 623.5 1589.9 624C1592.8 624.6 1595.6 625.1 1598.4 625.7C1601.2 626.2 1604 626.8 1606.8 627.3C1609.6 627.9 1612.5 628.4 1615.3 628.9C1618.1 629.5 1620.9 630 1623.7 630.5C1626.5 631.1 1629.4 631.6 1632.2 632.1C1635 632.7 1637.8 633.2 1640.6 633.7C1643.5 634.2 1646.3 634.7 1649.1 635.2C1651.9 635.7 1654.7 636.2 1657.6 636.7C1660.4 637.2 1663.2 637.7 1666 638.1C1668.8 638.6 1671.7 639.1 1674.5 639.5C1677.3 640 1680.2 640.4 1683 640.9C1685.8 641.3 1688.6 641.7 1691.5 642.1C1694.3 642.6 1697.1 643 1700 643.4C1702.8 643.7 1705.6 644.1 1708.5 644.5C1711.3 644.8 1714.1 645.2 1717 645.5C1719.8 645.9 1722.6 646.2 1725.5 646.5C1728.3 646.8 1731.2 647.1 1734 647.4C1736.8 647.7 1739.7 647.9 1742.5 648.2C1745.4 648.4 1748.2 648.6 1751.1 648.8C1753.9 649.1 1756.8 649.2 1759.6 649.4C1762.5 649.6 1765.3 649.7 1768.2 649.9C1771.1 650 1773.9 650.1 1776.8 650.2C1779.6 650.3 1782.5 650.4 1785.4 650.4C1788.2 650.5 1791.1 650.5 1794 650.5C1796.8 650.5 1799.7 650.5 1802.6 650.4C1805.4 650.4 1808.3 650.3 1811.2 650.2" stroke="#ff8000"/>
<!--cap--><ellipse cx="42" cy="653.2" rx="4.8" ry="7.75" fill="#ff8000" stroke="none"/>
<path d="M41.9 653.1C44.7 653.1 47.6 653.1 50.4 653.1C53.3 653.2 56.2 653.2 59 653.2C61.9 653.2 64.7 653.2 67.6 653.3C70.5 653.3 73.3 653.3 76.2 653.3C79 653.3 81.9 653.3 84.7 653.3C87.6 653.4 90.4 653.4 93.3 653.4C96.1 653.4 99 653.4 101.8 653.4C104.7 653.4 107.5 653.4 110.4 653.4C113.2 653.4 116.1 653.4 118.9 653.4C121.8 653.4 124.6 653.4 127.5 653.4C130.3 653.4 133.2 653.4 136 653.4C138.9 653.4 141.7 653.4 144.6 653.4C147.4 653.4 150.3 653.4 153.1 653.3C156 653.3 158.8 653.3 161.7 653.3C164.5 653.3 167.4 653.2 170.2 653.2C173.1 653.2 175.9 653.1 178.8 653.1C181.7 653.1 184.5 653 187.4 653C190.2 653 193.1 652.9 196 652.9C198.8 652.8 201.7 652.8 204.6 652.7C207.4 652.7 210.3 652.6 213.2 652.6C216 652.5 218.9 652.4 221.8 652.3C224.7 652.3 227.5 652.2 230.4 652C233.3 651.9 236.1 651.7 239 651.4C241.8 651.2 244.6 650.9 247.5 650.5C250.3 650.1 253.1 649.6 255.9 649C258.6 648.5 261.4 647.8 264.1 647C266.9 646.3 269.6 645.4 272.3 644.4C275 643.5 277.7 642.4 280.3 641.3C283 640.2 285.6 639 288.2 637.7C290.9 636.4 293.5 635.1 296.1 633.7C298.6 632.3 301.2 630.8 303.8 629.3C306.3 627.8 308.9 626.2 311.4 624.6C313.9 622.9 316.4 621.3 318.9 619.6C321.4 617.8 323.9 616.1 326.3 614.3C328.8 612.6 331.2 610.7 333.7 608.9C336.1 607.1 338.5 605.3 341 603.4C343.4 601.5 345.8 599.7 348.2 597.8C350.6 595.9 352.9 594 355.3 592.1C357.7 590.2 360 588.3 362.4 586.4C364.7 584.5 367 582.6 369.4 580.6C371.7 578.7 374 576.7 376.3 574.8C378.6 572.8 380.9 570.8 383.2 568.8C385.4 566.8 387.7 564.8 390 562.8C392.2 560.8 394.5 558.7 396.7 556.7C398.9 554.6 401.2 552.6 403.4 550.5C405.6 548.4 407.8 546.3 410 544.2C412.2 542.1 414.4 540 416.5 537.9C418.7 535.7 420.9 533.6 423 531.4C425.2 529.2 427.3 527 429.5 524.8C431.6 522.6 433.7 520.4 435.8 518.2C438 515.9 440.1 513.7 442.2 511.4C444.3 509.1 446.3 506.8 448.4 504.5C450.5 502.2 452.6 499.9 454.6 497.6C456.7 495.3 458.7 492.9 460.7 490.6C462.8 488.2 464.8 485.9 466.8 483.5C468.9 481.1 470.9 478.8 472.9 476.4C474.9 474 476.9 471.6 478.8 469.2C480.8 466.8 482.8 464.3 484.8 461.9C486.7 459.5 488.7 457.1 490.6 454.6C492.6 452.2 494.5 449.8 496.5 447.3C498.4 444.9 500.4 442.4 502.3 440C504.2 437.5 506.2 435.1 508.1 432.6C510 430.1 511.9 427.7 513.9 425.2C515.8 422.8 517.7 420.3 519.6 417.8C521.6 415.4 523.5 412.9 525.4 410.4C527.3 408 529.3 405.5 531.2 403.1C533.1 400.6 535 398.2 537 395.7C538.9 393.2 540.8 390.8 542.8 388.4C544.7 385.9 546.6 383.5 548.6 381C550.5 378.6 552.5 376.2 554.4 373.7C556.4 371.3 558.4 368.9 560.3 366.5C562.3 364.1 564.3 361.7 566.3 359.3C568.3 356.9 570.2 354.5 572.2 352.1C574.2 349.7 576.2 347.3 578.2 344.9C580.2 342.5 582.2 340.2 584.2 337.8C586.2 335.4 588.2 333 590.2 330.7C592.2 328.3 594.2 325.9 596.3 323.5C598.3 321.2 600.3 318.8 602.3 316.4C604.3 314.1 606.3 311.7 608.3 309.3C610.3 307 612.4 304.6 614.4 302.2C616.4 299.8 618.4 297.5 620.4 295.1C622.4 292.7 624.5 290.4 626.5 288C628.5 285.7 630.5 283.3 632.6 281C634.6 278.6 636.6 276.3 638.7 273.9C640.7 271.6 642.7 269.3 644.8 266.9C646.8 264.6 648.9 262.3 651 260C653 257.7 655.1 255.4 657.2 253.2C659.3 250.9 661.4 248.6 663.5 246.4C665.6 244.1 667.7 241.9 669.9 239.7C672 237.5 674.1 235.3 676.3 233.1C678.4 230.9 680.6 228.8 682.8 226.6C685 224.5 687.2 222.4 689.4 220.3C691.6 218.2 693.9 216.1 696.1 214.1C698.4 212 700.6 210 702.9 208C705.2 206 707.5 204.1 709.8 202.1C712.2 200.2 714.5 198.3 716.9 196.4C719.3 194.6 721.7 192.8 724.1 191C726.5 189.2 729 187.5 731.4 185.8C733.9 184.1 736.4 182.4 738.9 180.8C741.5 179.2 744 177.7 746.6 176.2C749.2 174.7 751.8 173.3 754.4 171.9C757.1 170.6 759.8 169.2 762.5 168C765.2 166.8 767.9 165.6 770.7 164.6C773.4 163.5 776.2 162.6 779 161.8C781.8 161.1 784.6 160.5 787.3 160.1C790.1 159.7 792.9 159.5 795.7 159.6C798.4 159.6 801.2 160 803.9 160.5C806.6 161.1 809.3 161.8 812 162.8C814.6 163.7 817.3 164.9 819.9 166.1C822.5 167.4 825.1 168.8 827.6 170.3C830.2 171.8 832.7 173.4 835.2 175.1C837.6 176.8 840.1 178.6 842.6 180.4C845 182.1 847.5 184 849.9 185.8C852.3 187.7 854.8 189.5 857.2 191.3C859.7 193.2 862.1 195 864.6 196.7C867.1 198.4 869.5 200.1 872 201.7C874.6 203.3 877.1 204.9 879.6 206.4C882.2 207.9 884.7 209.3 887.3 210.7C889.9 212.1 892.4 213.5 895 214.8C897.6 216.2 900.2 217.5 902.8 218.8C905.4 220.2 908 221.5 910.6 222.8C913.2 224.1 915.9 225.4 918.5 226.8C921.1 228.1 923.7 229.5 926.3 230.8C928.9 232.2 931.5 233.6 934.1 235C936.7 236.4 939.3 237.8 942 239.2C944.6 240.6 947.2 242 949.8 243.4C952.4 244.7 955 246.1 957.6 247.5C960.2 248.9 962.8 250.2 965.5 251.5C968.1 252.8 970.7 254.2 973.3 255.4C976 256.7 978.6 258 981.2 259.2C983.9 260.4 986.5 261.6 989.2 262.8C991.8 264 994.5 265.2 997.1 266.3C999.8 267.4 1002.5 268.5 1005.2 269.6C1007.9 270.6 1010.5 271.7 1013.3 272.6C1016 273.6 1018.7 274.6 1021.4 275.5C1024.1 276.5 1026.9 277.4 1029.7 278.2C1032.4 279.1 1035.2 279.9 1038 280.7C1040.8 281.5 1043.6 282.2 1046.4 282.9C1049.2 283.6 1052.1 284.3 1054.9 284.9C1057.8 285.6 1060.6 286.2 1063.5 286.8C1066.3 287.4 1069.2 288 1072 288.7C1074.9 289.3 1077.7 290 1080.5 290.7C1083.3 291.4 1086.1 292.2 1088.9 293.1C1091.7 293.9 1094.4 294.8 1097.1 295.8C1099.7 296.9 1102.4 298 1105 299.2C1107.6 300.5 1110.1 301.8 1112.6 303.3C1115 304.8 1117.4 306.5 1119.8 308.3C1122.1 310 1124.4 312 1126.7 314C1128.9 315.9 1131.1 318.1 1133.3 320.3C1135.4 322.4 1137.5 324.7 1139.6 327.1C1141.6 329.4 1143.6 331.8 1145.6 334.3C1147.6 336.7 1149.5 339.3 1151.5 341.8C1153.4 344.3 1155.3 346.9 1157.1 349.4C1159 352 1160.8 354.6 1162.6 357.2C1164.5 359.8 1166.2 362.4 1168 365C1169.8 367.7 1171.5 370.3 1173.3 373C1175 375.6 1176.7 378.3 1178.5 380.9C1180.2 383.6 1181.9 386.3 1183.6 388.9C1185.3 391.6 1187 394.3 1188.6 397C1190.3 399.7 1192 402.3 1193.7 405C1195.4 407.7 1197 410.4 1198.7 413.1C1200.4 415.8 1202.1 418.5 1203.8 421.2C1205.5 423.9 1207.2 426.6 1208.9 429.3C1210.6 431.9 1212.3 434.6 1214.1 437.3C1215.8 439.9 1217.5 442.6 1219.3 445.2C1221.1 447.8 1222.9 450.4 1224.7 453C1226.5 455.6 1228.4 458.2 1230.2 460.7C1232.1 463.2 1234 465.7 1235.9 468.2C1237.9 470.7 1239.8 473.1 1241.8 475.5C1243.8 477.9 1245.8 480.3 1247.9 482.7C1250 485 1252 487.3 1254.2 489.5C1256.3 491.8 1258.4 494 1260.6 496.2C1262.8 498.3 1265 500.5 1267.2 502.5C1269.5 504.6 1271.7 506.6 1274 508.6C1276.3 510.6 1278.7 512.5 1281 514.4C1283.4 516.2 1285.8 518 1288.2 519.8C1290.6 521.5 1293 523.2 1295.5 524.9C1298 526.5 1300.5 528.1 1303 529.6C1305.5 531.1 1308.1 532.5 1310.6 533.9C1313.2 535.3 1315.8 536.6 1318.4 537.8C1321.1 539 1323.7 540.2 1326.4 541.3C1329.1 542.4 1331.8 543.4 1334.5 544.4C1337.2 545.4 1339.9 546.4 1342.6 547.3C1345.4 548.3 1348.1 549.1 1350.9 550C1353.7 550.9 1356.4 551.7 1359.2 552.6C1362 553.4 1364.8 554.3 1367.6 555.1C1370.3 555.9 1373.1 556.8 1375.9 557.6C1378.7 558.5 1381.4 559.3 1384.2 560.2C1387 561.1 1389.7 562.1 1392.5 563C1395.2 564 1398 565 1400.7 566C1403.4 567.1 1406.1 568.2 1408.8 569.3C1411.5 570.5 1414.1 571.7 1416.8 572.9C1419.5 574.1 1422.1 575.4 1424.8 576.6C1427.4 577.9 1430 579.2 1432.7 580.5C1435.3 581.8 1437.9 583.2 1440.6 584.5C1443.2 585.8 1445.8 587.1 1448.4 588.4C1451.1 589.7 1453.7 591 1456.3 592.3C1459 593.5 1461.6 594.8 1464.2 595.9C1466.9 597.1 1469.5 598.3 1472.2 599.4C1474.9 600.5 1477.6 601.6 1480.3 602.6C1483 603.6 1485.7 604.6 1488.4 605.4C1491.1 606.3 1493.9 607.1 1496.6 607.9C1499.4 608.6 1502.2 609.3 1505 609.9C1507.8 610.5 1510.6 611.1 1513.4 611.7C1516.2 612.2 1519 612.7 1521.9 613.2C1524.7 613.7 1527.6 614.1 1530.4 614.5C1533.3 614.9 1536.1 615.3 1539 615.7C1541.8 616.1 1544.7 616.5 1547.6 616.9C1550.4 617.3 1553.3 617.7 1556.1 618.1C1559 618.5 1561.8 618.9 1564.7 619.3C1567.5 619.7 1570.4 620.2 1573.2 620.7C1576.1 621.2 1578.9 621.7 1581.7 622.2C1584.5 622.8 1587.4 623.4 1590.2 623.9C1593 624.5 1595.8 625.2 1598.6 625.8C1601.4 626.4 1604.2 627.1 1607 627.7C1609.8 628.4 1612.5 629 1615.3 629.7C1618.1 630.4 1620.9 631 1623.7 631.7C1626.5 632.3 1629.3 633 1632.1 633.6C1634.9 634.3 1637.6 634.9 1640.4 635.5C1643.2 636.2 1646 636.8 1648.8 637.3C1651.6 637.9 1654.4 638.5 1657.2 639C1660.1 639.5 1662.9 640 1665.7 640.4C1668.5 640.9 1671.3 641.3 1674.2 641.7C1677 642.1 1679.8 642.5 1682.7 642.8C1685.5 643.2 1688.4 643.5 1691.2 643.8C1694.1 644.1 1696.9 644.4 1699.8 644.6C1702.6 644.9 1705.5 645.1 1708.4 645.3C1711.2 645.6 1714.1 645.8 1717 646C1719.8 646.2 1722.7 646.3 1725.5 646.5C1728.4 646.7 1731.3 646.8 1734.1 647C1737 647.1 1739.9 647.3 1742.7 647.4C1745.6 647.6 1748.5 647.7 1751.3 647.8C1754.2 648 1757.1 648.1 1759.9 648.2C1762.8 648.3 1765.7 648.5 1768.5 648.6C1771.4 648.7 1774.2 648.9 1777.1 649C1779.9 649.2 1782.8 649.3 1785.6 649.5C1788.4 649.7 1791.3 649.8 1794.1 650C1796.9 650.2 1799.8 650.4 1802.6 650.6C1805.4 650.8 1808.2 651.1 1811 651.3" stroke="#00bfd0"/>
<!--cap--><ellipse cx="42.2" cy="653.1" rx="4.8" ry="7.75" fill="#00bfd0" stroke="none"/>
<path d="M41.8 651.1C44.6 651 47.3 650.9 50.1 650.9C52.9 650.8 55.7 650.8 58.6 650.7C61.4 650.7 64.2 650.7 67 650.7C69.8 650.7 72.6 650.7 75.5 650.7C78.3 650.8 81.1 650.8 84 650.9C86.8 650.9 89.7 651 92.5 651C95.4 651.1 98.2 651.2 101.1 651.2C103.9 651.3 106.8 651.4 109.6 651.5C112.5 651.6 115.4 651.7 118.2 651.8C121.1 651.9 124 652 126.8 652.1C129.7 652.2 132.6 652.3 135.5 652.4C138.3 652.5 141.2 652.6 144.1 652.7C147 652.8 149.9 652.9 152.8 653C155.6 653.2 158.5 653.3 161.4 653.4C164.3 653.5 167.2 653.5 170.1 653.6C173 653.7 175.9 653.8 178.7 653.9C181.6 654 184.5 654 187.4 654.1C190.3 654.2 193.2 654.2 196.1 654.3C199 654.3 201.8 654.3 204.7 654.4C207.6 654.4 210.5 654.4 213.4 654.4C216.3 654.4 219.2 654.4 222 654.4C224.9 654.3 227.8 654.3 230.7 654.2C233.6 654.2 236.4 654.1 239.3 654C242.2 653.9 245 653.8 247.9 653.7C250.8 653.6 253.6 653.4 256.5 653.3C259.4 653.1 262.2 652.9 265.1 652.7C267.9 652.5 270.8 652.3 273.6 652C276.5 651.8 279.3 651.5 282.2 651.2C285 650.9 287.8 650.6 290.7 650.2C293.5 649.9 296.3 649.5 299.1 649.1C302 648.7 304.8 648.2 307.6 647.8C310.4 647.3 313.2 646.8 316 646.3C318.8 645.8 321.6 645.2 324.4 644.7C327.2 644.1 329.9 643.5 332.7 642.8C335.5 642.2 338.2 641.5 341 640.8C343.8 640 346.5 639.3 349.3 638.5C352 637.7 354.7 636.9 357.5 636C360.2 635.1 362.9 634.2 365.6 633.3C368.4 632.4 371.1 631.4 373.8 630.4C376.5 629.3 379.1 628.3 381.8 627.2C384.5 626.1 387.2 625 389.8 623.8C392.5 622.6 395.2 621.4 397.8 620.2C400.4 619 403.1 617.7 405.7 616.4C408.3 615.1 410.9 613.8 413.6 612.4C416.2 611 418.8 609.6 421.3 608.2C423.9 606.8 426.5 605.3 429.1 603.8C431.6 602.4 434.2 600.8 436.7 599.3C439.3 597.8 441.8 596.2 444.3 594.6C446.9 593 449.4 591.4 451.9 589.7C454.4 588.1 456.9 586.4 459.4 584.7C461.8 583 464.3 581.3 466.8 579.6C469.2 577.8 471.7 576.1 474.1 574.3C476.5 572.5 479 570.7 481.4 568.9C483.8 567.1 486.2 565.2 488.6 563.4C490.9 561.5 493.3 559.6 495.7 557.7C498 555.8 500.4 553.9 502.7 552C505.1 550.1 507.4 548.1 509.7 546.1C512 544.2 514.3 542.2 516.6 540.2C518.9 538.2 521.2 536.2 523.4 534.2C525.7 532.1 528 530.1 530.2 528C532.4 526 534.7 523.9 536.9 521.8C539.1 519.8 541.3 517.6 543.5 515.5C545.7 513.4 547.9 511.3 550.1 509.2C552.3 507 554.5 504.9 556.6 502.7C558.8 500.5 561 498.3 563.1 496.1C565.2 494 567.4 491.7 569.5 489.5C571.6 487.3 573.8 485.1 575.9 482.8C578 480.6 580.1 478.3 582.2 476.1C584.3 473.8 586.3 471.5 588.4 469.3C590.5 467 592.6 464.7 594.6 462.4C596.7 460.1 598.7 457.8 600.8 455.4C602.8 453.1 604.9 450.8 606.9 448.4C608.9 446.1 610.9 443.7 613 441.4C615 439 617 436.6 618.9 434.2C620.9 431.8 622.9 429.4 624.9 427C626.8 424.5 628.8 422.1 630.7 419.7C632.6 417.2 634.5 414.7 636.4 412.2C638.3 409.7 640.2 407.2 642.1 404.7C643.9 402.2 645.8 399.6 647.6 397.1C649.4 394.5 651.2 391.9 653 389.3C654.7 386.7 656.5 384.1 658.2 381.4C659.9 378.8 661.6 376.1 663.3 373.4C665 370.7 666.6 368 668.3 365.2C669.9 362.5 671.5 359.7 673.1 356.9C674.6 354.1 676.2 351.3 677.7 348.5C679.2 345.6 680.7 342.7 682.1 339.8C683.6 336.9 685 334 686.4 331C687.8 328.1 689.1 325.1 690.5 322.1C691.8 319.1 693.2 316.1 694.5 313.1C695.8 310.1 697.1 307.1 698.4 304.1C699.8 301.1 701 298.1 702.3 295.1C703.6 292.1 704.9 289.1 706.2 286.1C707.5 283.1 708.8 280.1 710.2 277.2C711.5 274.2 712.8 271.3 714.1 268.4C715.5 265.5 716.8 262.6 718.2 259.7C719.6 256.9 721 254 722.4 251.2C723.8 248.4 725.3 245.7 726.8 243C728.2 240.2 729.7 237.6 731.3 234.9C732.8 232.1 734.3 229.5 735.8 226.7C737.4 224 738.9 221.2 740.4 218.3C741.9 215.5 743.4 212.6 744.9 209.5C746.4 206.5 747.8 203.3 749.3 200.1C750.7 196.9 752.1 193.5 753.6 190.3C755.1 187.1 756.6 183.9 758.2 181C759.8 178 761.5 175.2 763.3 172.7C765.1 170.2 767 167.9 769.2 166.1C771.3 164.3 773.6 162.8 776 161.8C778.5 160.9 781.2 160.5 783.9 160.6C786.5 160.6 789.4 161.2 791.9 162.4C794.4 163.5 796.8 165.4 799 167.4C801.2 169.5 803.1 172.3 805 174.9C806.8 177.5 808.5 180.4 810.1 183.2C811.7 186.1 813.2 189 814.6 191.9C816 194.9 817.4 197.9 818.6 200.9C819.9 203.9 821.1 207 822.3 210.1C823.4 213.2 824.5 216.3 825.6 219.4C826.7 222.5 827.8 225.6 828.8 228.7C829.9 231.9 831 235 832 238.1C833.1 241.2 834.2 244.3 835.2 247.4C836.3 250.5 837.4 253.6 838.4 256.7C839.5 259.8 840.6 262.9 841.7 266C842.7 269 843.8 272.1 844.9 275.2C846 278.3 847.1 281.3 848.2 284.4C849.3 287.5 850.4 290.5 851.5 293.6C852.6 296.6 853.8 299.7 854.9 302.7C856 305.8 857.2 308.8 858.3 311.8C859.5 314.9 860.6 317.9 861.8 320.9C863 324 864.1 327 865.3 330C866.5 333 867.8 336.1 869 339.1C870.2 342.1 871.4 345.1 872.7 348.1C873.9 351.1 875.2 354.1 876.5 357.1C877.8 360.1 879.1 363.1 880.4 366.1C881.7 369.1 883 372.1 884.4 375.1C885.7 378.1 887.1 381.1 888.5 384.1C889.8 387 891.2 390 892.7 393C894.2 395.9 895.6 398.8 897.2 401.6C898.8 404.4 900.4 407.2 902.1 409.8C903.9 412.4 905.7 414.9 907.7 417.2C909.6 419.6 911.7 421.8 913.9 423.8C916 425.9 918.4 427.8 920.7 429.6C923.1 431.3 925.5 433 928 434.6C930.5 436.2 933.1 437.6 935.7 439C938.3 440.5 941 441.8 943.6 443.1C946.3 444.3 948.9 445.6 951.6 446.7C954.3 447.9 957.1 449 959.8 450C962.5 451 965.3 452 968 452.9C970.8 453.8 973.6 454.6 976.4 455.3C979.1 456.1 982 456.8 984.8 457.4C987.6 458 990.4 458.6 993.2 459C996.1 459.5 998.9 459.9 1001.8 460.2C1004.6 460.5 1007.5 460.8 1010.3 461C1013.2 461.1 1016.1 461.2 1018.9 461.3C1021.8 461.4 1024.7 461.5 1027.5 461.5C1030.4 461.6 1033.3 461.6 1036.1 461.7C1039 461.7 1041.9 461.8 1044.7 461.9C1047.6 462 1050.5 462.2 1053.3 462.4C1056.2 462.7 1059 463 1061.8 463.3C1064.7 463.7 1067.5 464.1 1070.3 464.5C1073.2 465 1076 465.5 1078.8 466.1C1081.6 466.7 1084.4 467.3 1087.1 468C1089.9 468.7 1092.7 469.4 1095.4 470.3C1098.2 471.1 1100.9 471.9 1103.7 472.9C1106.4 473.8 1109.1 474.8 1111.8 475.8C1114.5 476.8 1117.2 477.9 1119.8 479.1C1122.5 480.2 1125.1 481.5 1127.7 482.7C1130.3 484 1132.9 485.3 1135.5 486.7C1138.1 488.1 1140.7 489.5 1143.2 491C1145.7 492.5 1148.2 494.1 1150.7 495.7C1153.2 497.3 1155.7 499 1158.1 500.7C1160.5 502.5 1162.9 504.3 1165.3 506.1C1167.7 507.9 1170.1 509.8 1172.4 511.7C1174.8 513.6 1177.1 515.6 1179.4 517.6C1181.7 519.6 1184 521.6 1186.3 523.7C1188.6 525.7 1190.9 527.8 1193.2 529.9C1195.4 532 1197.7 534.1 1199.9 536.2C1202.2 538.3 1204.4 540.4 1206.6 542.6C1208.9 544.7 1211.1 546.8 1213.3 549C1215.6 551.1 1217.8 553.2 1220 555.3C1222.3 557.4 1224.5 559.5 1226.7 561.6C1229 563.6 1231.2 565.7 1233.5 567.7C1235.7 569.8 1238 571.8 1240.3 573.7C1242.6 575.7 1244.9 577.7 1247.2 579.6C1249.5 581.5 1251.8 583.4 1254.2 585.2C1256.6 587.1 1259 588.9 1261.4 590.7C1263.8 592.4 1266.2 594.1 1268.7 595.8C1271.2 597.5 1273.7 599.1 1276.2 600.7C1278.7 602.2 1281.3 603.7 1283.9 605.2C1286.4 606.6 1289 608 1291.7 609.3C1294.3 610.7 1296.9 611.9 1299.6 613.1C1302.3 614.3 1305 615.4 1307.7 616.4C1310.4 617.4 1313.1 618.3 1315.8 619.2C1318.6 620 1321.3 620.8 1324.1 621.5C1326.9 622.1 1329.7 622.7 1332.5 623.2C1335.3 623.7 1338.1 624 1340.9 624.3C1343.8 624.6 1346.6 624.8 1349.5 624.9C1352.3 625 1355.2 625 1358.1 625C1360.9 625 1363.8 624.9 1366.7 624.8C1369.6 624.7 1372.5 624.6 1375.3 624.4C1378.2 624.3 1381.1 624.2 1384 624C1386.9 623.9 1389.8 623.8 1392.6 623.7C1395.5 623.7 1398.4 623.6 1401.3 623.7C1404.1 623.7 1407 623.8 1409.8 623.9C1412.7 624.1 1415.5 624.3 1418.4 624.5C1421.2 624.8 1424 625.1 1426.9 625.4C1429.7 625.7 1432.5 626.1 1435.4 626.4C1438.2 626.8 1441 627.2 1443.8 627.6C1446.7 628 1449.5 628.4 1452.3 628.8C1455.2 629.2 1458 629.6 1460.8 630C1463.6 630.4 1466.5 630.8 1469.3 631.3C1472.1 631.7 1475 632.1 1477.8 632.5C1480.6 632.9 1483.5 633.4 1486.3 633.8C1489.1 634.2 1492 634.6 1494.8 635C1497.6 635.5 1500.5 635.9 1503.3 636.3C1506.2 636.7 1509 637.1 1511.8 637.5C1514.7 637.9 1517.5 638.3 1520.4 638.7C1523.2 639.1 1526 639.5 1528.9 639.9C1531.7 640.2 1534.6 640.6 1537.4 641C1540.2 641.3 1543.1 641.7 1545.9 642C1548.8 642.4 1551.6 642.7 1554.4 643C1557.3 643.4 1560.1 643.7 1563 644C1565.8 644.3 1568.7 644.6 1571.5 644.9C1574.3 645.2 1577.2 645.5 1580 645.8C1582.9 646.1 1585.7 646.3 1588.6 646.6C1591.4 646.9 1594.3 647.1 1597.1 647.4C1600 647.6 1602.8 647.9 1605.6 648.1C1608.5 648.3 1611.3 648.5 1614.2 648.8C1617 649 1619.9 649.2 1622.7 649.4C1625.6 649.6 1628.4 649.8 1631.3 650C1634.1 650.2 1637 650.4 1639.8 650.5C1642.7 650.7 1645.5 650.9 1648.4 651C1651.2 651.2 1654.1 651.3 1656.9 651.5C1659.8 651.6 1662.6 651.8 1665.5 651.9C1668.3 652 1671.2 652.1 1674 652.2C1676.9 652.4 1679.7 652.5 1682.6 652.6C1685.4 652.7 1688.3 652.8 1691.1 652.8C1694 652.9 1696.9 653 1699.7 653.1C1702.6 653.2 1705.4 653.2 1708.3 653.3C1711.1 653.3 1714 653.4 1716.8 653.4C1719.7 653.5 1722.5 653.5 1725.4 653.5C1728.3 653.6 1731.1 653.6 1734 653.6C1736.8 653.6 1739.7 653.6 1742.5 653.6C1745.4 653.6 1748.2 653.6 1751.1 653.6C1754 653.6 1756.8 653.6 1759.7 653.6C1762.5 653.5 1765.4 653.5 1768.2 653.5C1771.1 653.4 1774 653.4 1776.8 653.3C1779.7 653.3 1782.5 653.2 1785.4 653.2C1788.3 653.1 1791.1 653 1794 653C1796.8 652.9 1799.7 652.8 1802.5 652.7C1805.4 652.6 1808.3 652.5 1811.1 652.4" stroke="#8b5dad"/>
<!--cap--><ellipse cx="42.1" cy="651.1" rx="4.8" ry="7.75" fill="#8b5dad" stroke="none"/>
</g>
<g fill="#fff">
<rect x="1411" y="780.4" width="307" height="59.9"/>
<rect x="1207" y="911.8" width="195" height="59.3"/>
<rect x="816" y="1273.9" width="392" height="58"/>
</g>
<g fill="#000">
<rect x="354" y="713" width="3.0" height="77.9"/>
<rect x="354" y="846" width="3.0" height="67.9"/>
<rect x="573.9" y="702" width="3.0" height="133.2"/>
<rect x="573.9" y="950" width="3.0" height="26"/>
<path d="M564.8 974.1H586L575.4 1001Z"/>
<rect x="738" y="631" width="3.0" height="306.7"/>
<rect x="738" y="997" width="3.0" height="86"/>
<path d="M728.9 1081H750.1L739.5 1108Z"/>
<rect x="967.1" y="615.2" width="3.0" height="658.7"/>
<rect x="966.2" y="1333.1" width="3.6" height="10.9"/>
<path d="M957 1342.1H979L968 1370Z"/>
<rect x="1294.9" y="689.3" width="3.0" height="222.5"/>
<rect x="1294.9" y="971.1" width="3.0" height="156.9"/>
<path d="M1285.8 1126.1H1307L1296.4 1153Z"/>
<rect x="1559" y="710.3" width="3.0" height="70.1"/>
<rect x="1559" y="840.3" width="3.0" height="71.7"/>
<path d="M1549.9 910.4H1571.1L1560.5 937.2Z"/>
</g>
<text transform="translate(439.4 1537.6) scale(1.08 1)" font-size="44.2" text-anchor="middle" filter="url(#bin)">1000</text>
<text transform="translate(887 1537.6) scale(1.08 1)" font-size="44.2" text-anchor="middle" filter="url(#bin)">1040</text>
<text transform="translate(1334.6 1537.6) scale(1.08 1)" font-size="44.2" text-anchor="middle" filter="url(#bin)">1080</text>
<text transform="translate(1782.2 1537.6) scale(1.08 1)" font-size="44.2" text-anchor="middle" filter="url(#bin)">1120</text>
<text transform="translate(839.5 1625) scale(1.13 1)" font-size="49" filter="url(#bin)">wavenumber (cm<tspan font-size="33" dy="-20">-1</tspan><tspan dy="20">)</tspan></text>
<rect x="1396" y="118.8" width="135" height="15.3" rx="5.1" ry="7.65" fill="#ff8000"/>
<rect x="1396" y="174" width="135" height="15.3" rx="5.1" ry="7.65" fill="#00bfd0"/>
<rect x="1396" y="229.9" width="135" height="15.3" rx="5.1" ry="7.65" fill="#8b5dad"/>
<text transform="translate(1537.6 141.9) scale(1.134 1)" font-size="44.9" class="b" filter="url(#bin)">Negative control</text>
<text transform="translate(1537.6 197.9) scale(1.134 1)" font-size="44.9" class="b" filter="url(#bin)">CAP</text>
<text transform="translate(1537.6 253.8) scale(1.134 1)" font-size="44.9" class="b" filter="url(#bin)">Caspofungin</text>
<text transform="translate(237.8 830.9) scale(1.473 1)" font-size="34.3" filter="url(#bin)">mannan</text>
<text transform="translate(395.1 879.9) scale(1.49 1)" font-size="34.3" filter="url(#bin)"><tspan class="sy">β<tspan dx="2">(1–6)</tspan></tspan><tspan dx="-0.5"> glucan</tspan></text>
<text transform="translate(673.6 983) scale(1.49 1)" font-size="34.3" filter="url(#bin)"><tspan class="sy">α</tspan><tspan dx="3.4"> glucan</tspan></text>
<text transform="translate(1209.7 956.8) scale(1.49 1)" font-size="34.3" filter="url(#bin)"><tspan class="sy">β</tspan> glucan</text>
<text transform="translate(1413.8 826) scale(1.49 1)" font-size="34.3" filter="url(#bin)"><tspan class="sy">β<tspan dx="2">(1–3)</tspan></tspan><tspan dx="-1.4"> glucan</tspan></text>
<text transform="translate(820.9 1321.8) scale(1.142 1)" font-size="41" filter="url(#bin)">mannan/ glycogen</text>
<text transform="translate(321.6 954.9) scale(1.46 1)" font-size="38.6" class="b" filter="url(#bin)">978</text>
<text transform="translate(532.8 934.9) scale(1.46 1)" font-size="38.6" class="b" filter="url(#bin)">1001</text>
<text transform="translate(916.6 1414.3) scale(1.46 1)" font-size="38.6" class="b" filter="url(#bin)">1045</text>
<text transform="translate(1496.6 979.9) scale(1.46 1)" font-size="38.6" class="b" filter="url(#bin)">1108</text>
<text transform="translate(763.3 1186.8) rotate(-90) scale(1.475 1)" font-size="38" class="b" letter-spacing="-6.80" filter="url(#bin)">1018</text>
<text transform="translate(1322.1 1256.2) rotate(-90) scale(1.475 1)" font-size="38" class="b" letter-spacing="-6.80" filter="url(#bin)">1078</text>
</svg></body></html>
